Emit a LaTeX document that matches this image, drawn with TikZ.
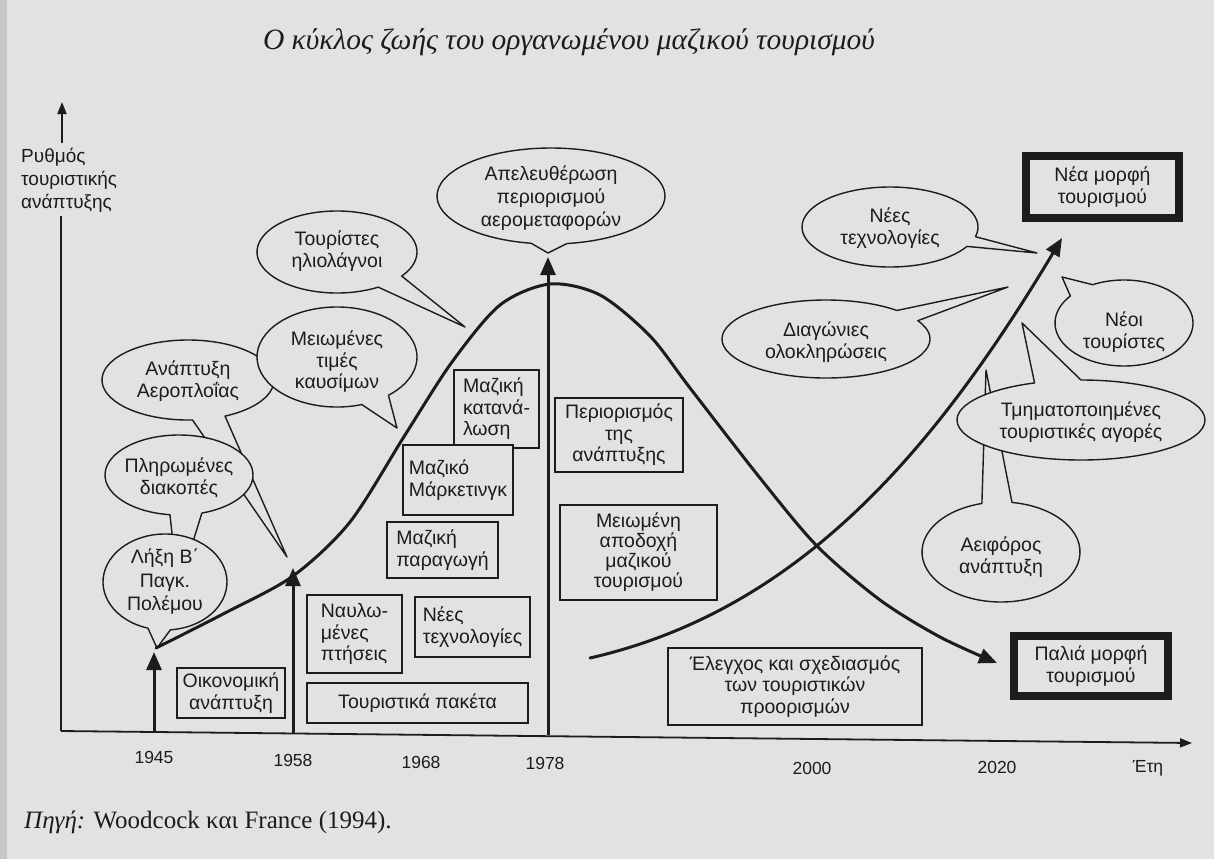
\documentclass[tikz,border=0pt]{standalone}
\usepackage{fontspec}
\setmainfont{Liberation Serif}
\setsansfont{Liberation Sans}
\usetikzlibrary{arrows.meta}
\definecolor{paper}{HTML}{E2E2E2}
\definecolor{ink}{HTML}{1C1C1C}
\newcommand\speech[7]{%
  \filldraw[bub] (#1,#2) ++(#5:#3 and #4) arc[start angle=#5, end angle=#6, x radius=#3, y radius=#4] -- (#7) -- cycle;}
\begin{document}
\begin{tikzpicture}[x=1pt,y=-1pt,
  lbl/.style={font=\sffamily\fontsize{19.5}{21.5}\selectfont, align=center, text=ink, inner sep=0pt},
  lblleft/.style={lbl, align=left},
  bub/.style={draw=ink, line width=1.4pt, fill=paper, line join=round},
  rbox/.style={lbl, draw=ink, line width=1.4pt, fill=paper},
  heavybox/.style={lbl, draw=ink, line width=8pt, fill=paper},
  bigarrow/.style={draw=ink, line width=3pt, -{Triangle[width=15pt,length=18pt]}},
  curvearrow/.style={draw=ink, line width=3pt, line cap=round, -{Triangle[width=15pt,length=18pt]}},
  axisline/.style={draw=ink, line width=1.8pt},
  ticklbl/.style={font=\sffamily\fontsize{17.5}{20}\selectfont, text=ink, inner sep=0pt}
]
\useasboundingbox (0,0) rectangle (1214,859);
\fill[paper] (0,0) rectangle (1214,859);
\fill[black!22] (0,0) rectangle (7,859);

% title and source
\node[font=\fontsize{29.5}{34}\selectfont\itshape, text=ink, inner sep=0pt] (title) at (569,42) {Ο κύκλος ζωής του οργανωμένου μαζικού τουρισμού};
\node[anchor=west, font=\fontsize{25}{28}\selectfont, text=ink, inner sep=0pt] (src) at (24,822) {\textit{Πηγή:} Woodcock και France (1994).};

% axes
\coordinate (ytop) at (62,102);
\coordinate (ylabtop) at (62,143);
\coordinate (ylabbot) at (61,216);
\coordinate (origin) at (61,731);
\coordinate (xend) at (1192,743);
\draw[axisline, -{Triangle[width=9pt,length=12pt]}] (ylabtop) -- (ytop);
\draw[axisline] (ylabbot) -- (origin);
\draw[axisline, -{Triangle[width=9pt,length=12pt]}] (origin) -- (xend);
\node[lblleft, anchor=west, font=\sffamily\fontsize{19}{23}\selectfont] (ylab) at (21,180) {Ρυθμός\\τουριστικής\\ανάπτυξης};

\node[ticklbl] (t1945) at (154,757) {1945};
\node[ticklbl] (t1958) at (293,760) {1958};
\node[ticklbl] (t1968) at (421,762) {1968};
\node[ticklbl] (t1978) at (545,763) {1978};
\node[ticklbl] (t2000) at (812,768) {2000};
\node[ticklbl] (t2020) at (997,767) {2020};
\node[ticklbl] (tyears) at (1148,768) {Έτη};

% tail tips
\coordinate (tipAn) at (287,557);
\coordinate (tipMe) at (397,428);
\coordinate (tipTo) at (465,327);
\coordinate (tipPl) at (178,590);
\coordinate (tipLi) at (157,648);
\coordinate (tipAp) at (548,253);
\coordinate (tipNT) at (1037,253);
\coordinate (tipDi) at (1008,287);
\coordinate (tipNo) at (1062,277);
\coordinate (tipAe) at (986,370);
\coordinate (tipTm) at (1022,323);

% speech bubbles (stacking order matters)
\speech{188}{380}{86}{40}{87}{424.5}{tipAn}
\speech{337}{357}{80}{50}{72}{410}{tipMe}
\speech{179}{475}{74}{40}{97}{432}{tipPl}
\speech{165}{582}{62}{48}{106}{445}{tipLi}
\speech{337}{252}{80}{41}{59}{396}{tipTo}
\speech{551}{196}{114}{48}{100}{442}{tipAp}
\speech{890}{227}{88}{40}{29}{374}{tipNT}
\speech{826}{339}{104}{39}{-28}{313}{tipDi}
\speech{1124}{323}{69}{43}{-117}{219}{tipNo}
\speech{1001}{552}{79}{50}{-82}{256}{tipAe}
\speech{1081}{420}{124}{40}{-90}{248}{tipTm}

\node[lbl] (anaptyxi) at (188,381) {Ανάπτυξη\\Αεροπλοΐας};
\node[lbl] (meiomenes) at (337,362) {Μειωμένες\\τιμές\\καυσίμων};
\node[lbl] (pliromenes) at (179,478) {Πληρωμένες\\διακοπές};
\node[lbl, font=\sffamily\fontsize{19.5}{23.5}\selectfont] (lixi) at (165,582) {Λήξη Β΄\\Παγκ.\\Πολέμου};
\node[lbl] (touristes) at (337,251) {Τουρίστες\\ηλιολάγνοι};
\node[lbl, font=\sffamily\fontsize{19.5}{23}\selectfont] (apeleft) at (551,198) {Απελευθέρωση\\περιορισμού\\αερομεταφορών};
\node[lbl] (neestech) at (890,228) {Νέες\\τεχνολογίες};
\node[lbl] (diagonies) at (826,342) {Διαγώνιες\\ολοκληρώσεις};
\node[lbl] (neoi) at (1124,332) {Νέοι\\τουρίστες};
\node[lbl] (aeiforos) at (1001,557) {Αειφόρος\\ανάπτυξη};
\node[lbl] (tmimat) at (1081,422) {Τμηματοποιημένες\\τουριστικές αγορές};

% rectangles
\node[rbox, minimum width=108pt, minimum height=50pt] (oikon) at (231,693) {Οικονομική\\ανάπτυξη};
\node[rbox, align=left, minimum width=95pt, minimum height=78pt] (navlo) at (354.5,634) {Ναυλω-\\μένες\\πτήσεις};
\node[rbox, align=left, minimum width=115pt, minimum height=60pt] (neesbox) at (472.5,627) {Νέες\\τεχνολογίες};
\node[rbox, minimum width=221pt, minimum height=40pt] (paketa) at (417.5,703) {Τουριστικά πακέτα};
\node[rbox, align=left, minimum width=111pt, minimum height=56pt] (paragogi) at (442.5,550) {Μαζική\\παραγωγή};
\node[rbox, align=left, minimum width=85pt, minimum height=78pt] (katanalosi) at (496.5,409) {Μαζική\\κατανά-\\λωση};
\node[rbox, align=left, minimum width=110pt, minimum height=70pt] (marketing) at (458,480) {Μαζικό\\Μάρκετινγκ};
\node[rbox, minimum width=128pt, minimum height=74pt] (periorismos) at (619,435) {Περιορισμός\\της\\ανάπτυξης};
\node[rbox, minimum width=157pt, minimum height=95pt, font=\sffamily\fontsize{19.5}{20}\selectfont] (apodoxi) at (638.5,552.5) {Μειωμένη\\αποδοχή\\μαζικού\\τουρισμού};
\node[rbox, minimum width=254pt, minimum height=77pt] (elegxos) at (795,686.5) {Έλεγχος και σχεδιασμός\\των τουριστικών\\προορισμών};

\node[heavybox, minimum width=153pt, minimum height=62pt] (nea) at (1102.5,187) {Νέα μορφή\\τουρισμού};
\node[heavybox, minimum width=154pt, minimum height=60pt] (palia) at (1091,666) {Παλιά μορφή\\τουρισμού};

% vertical arrows
\coordinate (b1945) at (154,732);
\coordinate (a1945) at (154,652);
\coordinate (b1958) at (293,733);
\coordinate (a1958) at (293,568);
\coordinate (b1978) at (548,735);
\coordinate (a1978) at (548,257);
\draw[bigarrow] (b1945) -- (a1945);
\draw[bigarrow] (b1958) -- (a1958);
\draw[bigarrow] (b1978) -- (a1978);

% curves
\coordinate (c1start) at (156,648);
\coordinate (c1end) at (997,663);
\coordinate (c2start) at (590,658);
\coordinate (c2end) at (1062,238);
\draw[curvearrow] plot[smooth] coordinates {(c1start) (225,613) (293,576) (350,522) (405,435) (452,362) (500,305) (550,284) (600,295) (650,336) (690,388) (760,478) (817,546) (880,600) (940,637) (c1end)};
\draw[curvearrow] (c2start) .. controls (800,610) and (935,450) .. (c2end);
\end{tikzpicture}
\end{document}
